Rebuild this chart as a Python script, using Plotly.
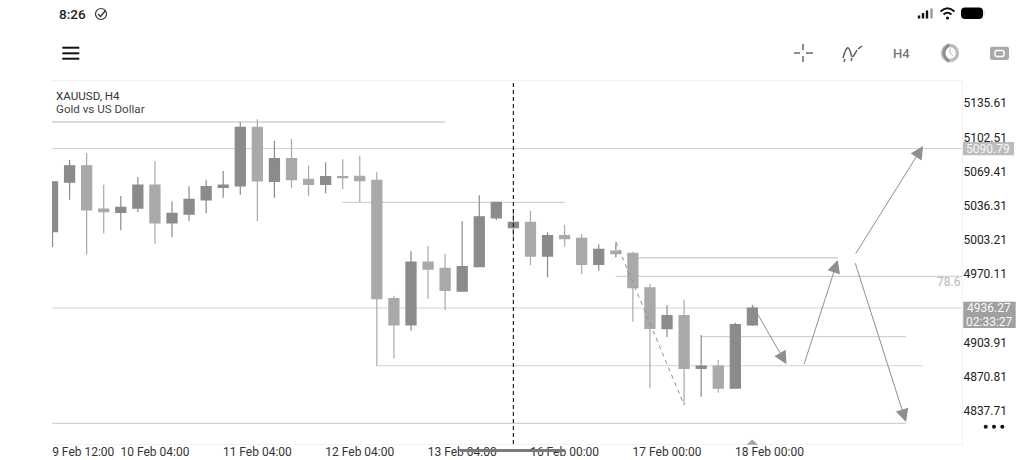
import plotly.graph_objects as go

# ---------- data ----------
bars = list(range(42))
opens = [5010.2, 5058.1, 5074.1, 5032.2, 5029.0, 5033.1, 5055.4, 5018.6, 5027.3, 5040.9, 5053.2, 5054.5, 5111.3, 5059.0,
         5080.9, 5061.0, 5056.1, 5063.5, 5063.9, 5060.0, 4945.3, 4919.8, 4980.8, 4974.7, 4952.7, 4976.3, 5023.5, 5014.1,
         5019.3, 4986.6, 5006.3, 5003.8, 4978.6, 4991.5, 4989.3, 4955.9, 4916.2, 4928.8, 4877.8, 4880.0, 4858.7, 4919.8]
highs = [5058.6, 5079.7, 5086.2, 5055.7, 5044.8, 5063.2, 5078.4, 5039.6, 5054.2, 5060.6, 5069.0, 5116.2, 5119.1, 5098.4,
         5100.0, 5074.1, 5077.4, 5080.3, 5083.5, 5068.0, 4948.2, 4991.2, 4996.6, 4988.9, 5020.3, 5045.5, 5038.7, 5031.2,
         5030.5, 5009.6, 5017.0, 5008.0, 4998.0, 4999.9, 4990.8, 4959.5, 4938.9, 4944.0, 4910.1, 4885.9, 4922.0, 4939.2]
lows = [4995.4, 5041.2, 4988.3, 5008.6, 5011.5, 5029.0, 4998.6, 5004.8, 5020.6, 5028.0, 5043.1, 5046.0, 5020.6, 5043.1,
        5052.5, 5044.8, 5047.4, 5051.6, 5039.0, 4880.0, 4887.5, 4914.3, 4945.3, 4934.0, 4952.0, 4975.7, 5021.5, 5005.3,
        4977.6, 4966.0, 4995.6, 4968.9, 4972.4, 4985.4, 4923.0, 4858.4, 4908.1, 4842.3, 4850.3, 4854.2, 4858.7, 4918.8]
closes = [5058.6, 5074.1, 5031.2, 5029.6, 5033.8, 5055.4, 5018.6, 5028.0, 5041.6, 5053.8, 5055.4, 5111.3, 5059.3, 5080.9,
          5060.6, 5056.1, 5063.5, 5062.5, 5059.6, 4945.3, 4919.8, 4980.8, 4974.0, 4953.4, 4976.3, 5024.7, 5038.7, 5019.3,
          4986.6, 5006.3, 5003.4, 4978.6, 4993.1, 4988.9, 4955.9, 4916.6, 4928.8, 4877.8, 4880.0, 4858.7, 4920.1, 4936.27]

price_ticks = [5135.61, 5102.51, 5069.41, 5036.31, 5003.21, 4970.11, 4903.91, 4870.81, 4837.71]
price_labels = ["5135.61", "5102.51", "5069.41", "5036.31", "5003.21", "4970.11", "4903.91", "4870.81", "4837.71"]
time_ticks = [1.8, 6, 12, 18, 24, 30, 36, 42]
time_labels = ["9 Feb 12:00", "10 Feb 04:00", "11 Feb 04:00", "12 Feb 04:00", "13 Feb 04:00",
               "16 Feb 00:00", "17 Feb 00:00", "18 Feb 00:00"]

# horizontal levels: start bar, end bar, price, thickness
level_start = [-1, -1, 17, 34, 33, -1, 38, 19, -1]
level_end = [23, 54, 30, 46, 54, 54, 50, 51, 50]
level_price = [5116.5, 5090.79, 5038.7, 4985.0, 4967.0, 4936.27, 4908.6, 4880.3, 4824.5]
level_width = [1.5, 1.2, 1.2, 1.5, 1.2, 1.2, 1.2, 1.2, 1.2]

# projected arrows: bar and price at tail and head
arrow_x0 = [41, 44, 47, 47]
arrow_y0 = [4939.2, 4880.3, 4987.6, 4981.1]
arrow_x1 = [43, 46, 51, 50]
arrow_y1 = [4881.7, 4982.8, 5093.2, 4825.8]

# dashed swing
swing_x = [33, 33, 33, 37]
swing_y = [4985.4, 5000.5, 5000.5, 4842.3]
cursor_bar = 27
fib_text = "78.6"

# ---------- page geometry ----------
W, H = 1024, 460
L, R, T, B = 52, 962, 81, 444
def px(x): return (x - L) / (R - L)
def py(y): return (B - y) / (B - T)
def P(x, y): return f"{px(x):.5f},{py(y):.5f}"

shapes = []
def seg(x0, y0, x1, y1, color, width=1, dash=None):
    shapes.append(dict(type="line", xref="paper", yref="paper", x0=px(x0), y0=py(y0), x1=px(x1), y1=py(y1),
                       line=dict(color=color, width=width, dash=dash)))
def path(d, fill=None, color=None, width=0):
    shapes.append(dict(type="path", xref="paper", yref="paper", path=d, fillcolor=fill or "rgba(0,0,0,0)",
                       line=dict(color=color or "rgba(0,0,0,0)", width=width)))
def circle(cx, cy, r, fill=None, color=None, width=0):
    shapes.append(dict(type="circle", xref="paper", yref="paper", x0=px(cx - r), x1=px(cx + r), y0=py(cy + r), y1=py(cy - r),
                       fillcolor=fill or "rgba(0,0,0,0)", line=dict(color=color or "rgba(0,0,0,0)", width=width)))
def box(x0, y0, x1, y1, fill):
    shapes.append(dict(type="rect", xref="paper", yref="paper", x0=px(x0), x1=px(x1), y0=py(y1), y1=py(y0),
                       fillcolor=fill, line=dict(width=0)))
def rrect(x0, y0, x1, y1, r, fill=None, color=None, width=0):
    d = (f"M{P(x0 + r, y0)} L{P(x1 - r, y0)} Q{P(x1, y0)} {P(x1, y0 + r)} L{P(x1, y1 - r)} Q{P(x1, y1)} {P(x1 - r, y1)} "
         f"L{P(x0 + r, y1)} Q{P(x0, y1)} {P(x0, y1 - r)} L{P(x0, y0 + r)} Q{P(x0, y0)} {P(x0 + r, y0)} Z")
    path(d, fill, color, width)

# levels sit underneath the candles
for s, e, p, w in zip(level_start, level_end, level_price, level_width):
    shapes.append(dict(type="line", xref="x", yref="y", x0=s, x1=e, y0=p, y1=p, layer="below",
                       line=dict(color="#d2d2d2", width=w)))

# status bar icons
circle(101, 14, 5.5, color="#333333", width=1.2)
path(f"M{P(98, 14)} L{P(100.5, 16.5)} L{P(105.5, 10.5)}", color="#333333", width=1.3)
for i, (x, top, c) in enumerate(zip([919, 923, 927, 931.5], [15.5, 13, 10.5, 8.5], ["#111", "#111", "#111", "#999"])):
    box(x - 1.2, top, x + 1.2, 18.5, c)
path(f"M{P(940.5, 11.5)} Q{P(947.5, 5)} {P(954.5, 11.5)}", color="#111", width=2)
path(f"M{P(943.5, 14.5)} Q{P(947.5, 11)} {P(951.5, 14.5)}", color="#111", width=2)
circle(947.5, 18, 1.6, fill="#111")
rrect(961, 7.5, 983, 19, 4, fill="#000")
box(983.5, 11, 984.5, 15, "#cccccc")

# toolbar icons
for y in (47.7, 53.3, 58.7):
    seg(62.3, y, 79.3, y, "#111111", 2)
ic = "#666666"
seg(794, 53, 800, 53, ic, 1.5); seg(806, 53, 813, 53, ic, 1.5)
seg(803, 44, 803, 50, ic, 1.5); seg(803, 56, 803, 62, ic, 1.5)
path(f"M{P(843, 58)} C{P(847, 44)} {P(849, 46)} {P(851, 54)} C{P(852, 60)} {P(855, 54)} {P(857, 50)}", color="#555555", width=1.4)
seg(844, 62, 845, 59, "#555555", 1.3); seg(858, 49, 862, 46, "#555555", 1.5); seg(851, 61, 852, 58, "#555555", 1.3)
circle(950, 53, 7.5, color="#bdbdbd", width=3.4)
path(f"M{P(949, 44.5)} Q{P(939, 53)} {P(949, 61.5)}", color="#8f8f8f", width=3)
path(f"M{P(950, 48)} L{P(950, 53)} L{P(953, 56)}", color="#bbbbbb", width=1)
rrect(990, 46.7, 1009, 60, 2, fill="#a9a9a9")
rrect(995, 50.5, 1004, 56.5, 2, fill="#a9a9a9", color="#ffffff", width=1.5)

# price tags and small chart furniture
box(963, 142, 1014, 155.3, "#bdbdbd")
box(963.3, 301.7, 1015.7, 328, "#a0a0a0")
path(f"M{P(746.5, 444.7)} L{P(752.3, 439.5)} L{P(758, 444.7)} Z", fill="#a3a3a3")
box(460, 449, 565, 452, "#7a7a7a")
for x in (985.7, 994, 1002.3):
    circle(x, 426.7, 2, fill="#111111")

annotations = []
def label(x, y, text, size=12, color="#333333", anchor="left", weight=None):
    annotations.append(dict(xref="paper", yref="paper", x=px(x), y=py(y), text=text, showarrow=False,
                            xanchor=anchor, yanchor="middle", borderpad=0, borderwidth=0,
                            font=dict(family="Roboto", size=size, color=color, weight=weight)))
label(59, 13.5, "8:26", 13.5, "#222222", weight=500)
label(901, 53, "H4", 13, "#777777", "center", 500)
label(55.5, 96, "XAUUSD, H4", 11.6, "#333333")
label(55.5, 109.5, "Gold vs US Dollar", 11.6, "#444444")
label(988.5, 148.5, "5090.79", 12, "#f4f4f4", "center")
label(989.5, 308.3, "4936.27", 12, "#f8f8f8", "center")
label(989.5, 321.5, "02:33:27", 12, "#f8f8f8", "center")
label(961, 282.3, fib_text, 12, "#b8b8b8", "right")

for x0, y0, x1, y1 in zip(arrow_x0, arrow_y0, arrow_x1, arrow_y1):
    annotations.append(dict(xref="x", yref="y", axref="x", ayref="y", x=x1, y=y1, ax=x0, ay=y0, text="",
                            showarrow=True, arrowhead=2, arrowsize=2.6, arrowwidth=1, arrowcolor="#8f8f8f",
                            standoff=0, startstandoff=0))

fig = go.Figure()
fig.add_trace(go.Candlestick(
    x=bars, open=opens, high=highs, low=lows, close=closes,
    increasing=dict(line=dict(color="#8b8b8b", width=1.2), fillcolor="#8b8b8b"),
    decreasing=dict(line=dict(color="#a9a9a9", width=1.2), fillcolor="#a9a9a9"),
    whiskerwidth=0, hoverinfo="skip", showlegend=False))
fig.add_trace(go.Scatter(x=swing_x, y=swing_y, mode="lines", hoverinfo="skip", showlegend=False,
                         line=dict(color="#8f8f8f", width=1, dash="4px,4px")))
fig.add_trace(go.Scatter(x=[cursor_bar, cursor_bar], y=[4804.5, 5156.2], mode="lines", hoverinfo="skip", showlegend=False,
                         line=dict(color="#222222", width=1.2, dash="4px,3px")))

fig.update_layout(
    width=W, height=H, margin=dict(l=L, r=W - R, t=T, b=H - B, pad=0, autoexpand=False),
    paper_bgcolor="#ffffff", plot_bgcolor="#ffffff", showlegend=False, boxgap=0.41, boxgroupgap=0,
    shapes=shapes, annotations=annotations,
    xaxis=dict(range=[-0.03, 53.28], tickmode="array", tickvals=time_ticks, ticktext=time_labels, automargin=False,
               rangeslider=dict(visible=False), showgrid=False, zeroline=False, ticks="", showline=True, mirror=True,
               ticklabelstandoff=-3,
               linecolor="#f1f1f1", linewidth=1, tickfont=dict(family="Roboto", size=12, color="#333333")),
    yaxis=dict(range=[4804.5, 5156.2], side="right", tickmode="array", tickvals=price_ticks, ticktext=price_labels, automargin=False,
               showgrid=False, zeroline=False, ticks="", showline=True, linecolor="#f1f1f1", linewidth=1,
               ticklabelstandoff=-2, ticklabelshift=1,
               tickfont=dict(family="Roboto", size=12, color="#222222")),
)
fig.write_html("out.html", config=dict(displayModeBar=False), post_script="document.body.style.margin='0';")
